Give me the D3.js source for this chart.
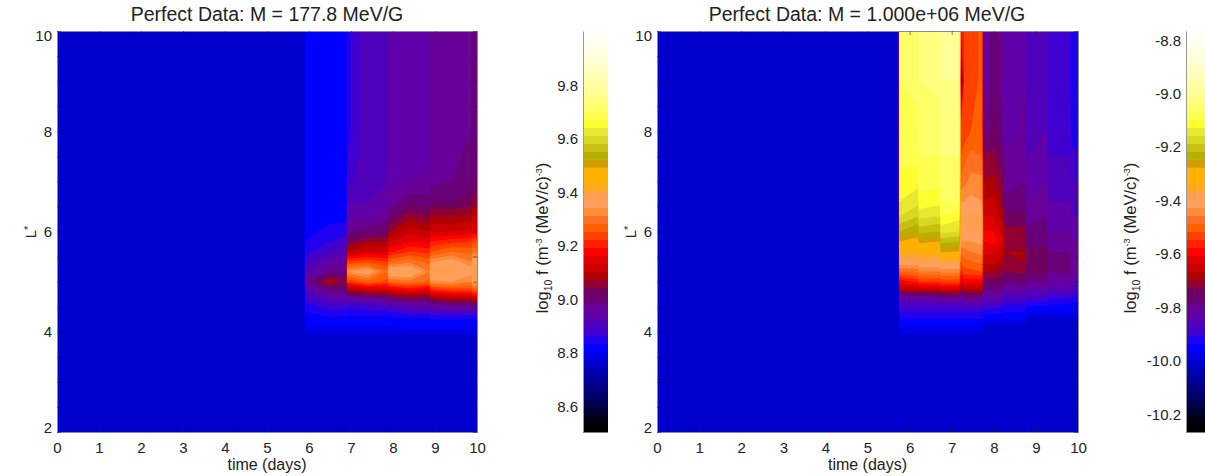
<!DOCTYPE html>
<html>
<head>
<meta charset="utf-8">
<script src="https://cdn.jsdelivr.net/npm/d3@7"></script>
<style>
  body { margin: 0; background: #fff; }
  svg { display: block; font-family: "Liberation Sans", sans-serif; fill: #222; }
</style>
</head>
<body>
<div id="graph"></div>
<script>
// L* rows shared by both panels
var lstar = [2, 3.9, 4.1, 4.25, 4.4, 4.55, 4.7, 4.85, 5, 5.2, 5.4, 5.6, 5.8, 6, 6.3, 6.6, 7, 7.5, 8, 9, 10]

var xTicks = [0, 1, 2, 3, 4, 5, 6, 7, 8, 9, 10]
var yTicks = d3.range(2, 10.5, .5)
var barTicksLeft = [8.6, 8.8, 9.0, 9.2, 9.4, 9.6, 9.8]
var barTicksRight = [-10.2, -10.0, -9.8, -9.6, -9.4, -9.2, -9.0, -8.8]

// time (days) of each column, then log10 f one column per time, one value per L*
var timesLow = [0, 5.89, 5.91, 6.5, 6.89, 6.91, 7.4, 7.87, 7.89, 8.4, 8.87, 8.89, 9.4, 9.87, 9.89, 10]
var fLow = [
  [8.76,8.76,8.76,8.76,8.76,8.76,8.76,8.76,8.76,8.76,8.76,8.76,8.76,8.76,8.76,8.76,8.76,8.76,8.76,8.76,8.76],
  [8.76,8.76,8.76,8.76,8.76,8.76,8.76,8.76,8.76,8.76,8.76,8.76,8.76,8.76,8.76,8.76,8.76,8.76,8.76,8.76,8.76],
  [8.76,8.76,8.80,8.82,8.83,8.85,8.88,8.91,8.97,8.91,8.88,8.85,8.83,8.82,8.82,8.82,8.82,8.82,8.82,8.82,8.82],
  [8.76,8.76,8.80,8.82,8.85,8.89,8.94,9.00,9.09,8.98,8.94,8.89,8.86,8.84,8.82,8.82,8.82,8.82,8.82,8.82,8.82],
  [8.76,8.76,8.80,8.82,8.85,8.89,8.95,9.00,9.04,8.98,8.95,8.91,8.88,8.85,8.82,8.82,8.82,8.82,8.82,8.82,8.82],
  [8.76,8.76,8.80,8.82,8.84,8.88,8.97,9.09,9.22,9.34,9.22,9.10,9.03,8.98,8.94,8.91,8.88,8.86,8.85,8.85,8.85],
  [8.76,8.76,8.80,8.82,8.85,8.89,9.00,9.13,9.27,9.37,9.24,9.13,9.07,9.00,8.94,8.92,8.91,8.91,8.91,8.91,8.91],
  [8.76,8.76,8.80,8.82,8.85,8.92,9.01,9.13,9.24,9.28,9.22,9.13,9.07,9.01,8.97,8.94,8.92,8.91,8.91,8.91,8.91],
  [8.76,8.76,8.80,8.82,8.86,8.92,9.03,9.15,9.28,9.39,9.27,9.18,9.12,9.06,9.00,8.96,8.94,8.94,8.94,8.94,8.94],
  [8.76,8.76,8.81,8.82,8.88,8.95,9.06,9.18,9.30,9.39,9.30,9.22,9.16,9.12,9.06,9.00,8.95,8.94,8.94,8.94,8.94],
  [8.76,8.76,8.81,8.82,8.88,8.95,9.04,9.16,9.27,9.31,9.27,9.21,9.15,9.10,9.04,8.99,8.96,8.94,8.94,8.94,8.94],
  [8.76,8.76,8.81,8.83,8.89,8.97,9.09,9.21,9.33,9.40,9.33,9.25,9.19,9.13,9.07,9.01,8.97,8.96,8.97,8.97,8.97],
  [8.76,8.76,8.81,8.83,8.89,9.00,9.12,9.24,9.34,9.40,9.36,9.28,9.21,9.13,9.07,9.01,8.98,8.97,8.97,8.97,8.97],
  [8.76,8.76,8.81,8.83,8.89,9.00,9.12,9.24,9.31,9.36,9.31,9.27,9.22,9.14,9.08,9.02,9.00,8.99,8.98,8.98,8.98],
  [8.76,8.76,8.81,8.83,8.89,9.01,9.15,9.27,9.36,9.40,9.36,9.30,9.24,9.16,9.10,9.05,9.01,9.00,9.00,9.00,9.00],
  [8.76,8.76,8.81,8.83,8.89,9.01,9.15,9.27,9.36,9.40,9.36,9.30,9.24,9.16,9.10,9.05,9.01,9.00,9.00,9.00,9.00]
]

var timesHigh = [0, 5.74, 5.76, 6.2, 6.22, 6.72, 6.74, 7.18, 7.22, 7.3, 7.45, 7.72, 7.76, 8, 8.22, 8.26, 8.74, 8.78, 9.26, 9.3, 9.8, 9.85, 10]
var fHigh = [
  [-10.01,-10.01,-10.01,-10.01,-10.01,-10.01,-10.01,-10.01,-10.01,-10.01,-10.01,-10.01,-10.01,-10.01,-10.01,-10.01,-10.01,-10.01,-10.01,-10.01,-10.01],
  [-10.01,-10.01,-10.01,-10.01,-10.01,-10.01,-10.01,-10.01,-10.01,-10.01,-10.01,-10.01,-10.01,-10.01,-10.01,-10.01,-10.01,-10.01,-10.01,-10.01,-10.01],
  [-10.01,-10.01,-9.97,-9.94,-9.91,-9.87,-9.81,-9.67,-9.60,-9.49,-9.40,-9.33,-9.28,-9.22,-9.16,-9.13,-9.11,-9.09,-9.09,-9.07,-9.07],
  [-10.01,-10.01,-9.97,-9.94,-9.91,-9.87,-9.81,-9.66,-9.57,-9.48,-9.40,-9.34,-9.30,-9.25,-9.19,-9.15,-9.12,-9.09,-9.08,-9.06,-9.06],
  [-10.01,-10.01,-9.97,-9.94,-9.91,-9.87,-9.81,-9.66,-9.55,-9.46,-9.39,-9.33,-9.27,-9.21,-9.15,-9.11,-9.09,-9.07,-9.06,-9.04,-9.04],
  [-10.01,-10.01,-9.97,-9.94,-9.91,-9.87,-9.79,-9.66,-9.55,-9.46,-9.39,-9.33,-9.28,-9.22,-9.16,-9.12,-9.09,-9.07,-9.06,-9.03,-9.03],
  [-10.01,-10.01,-9.97,-9.94,-9.91,-9.87,-9.78,-9.64,-9.54,-9.45,-9.37,-9.27,-9.21,-9.15,-9.10,-9.07,-9.06,-9.04,-9.03,-9.01,-9.01],
  [-10.01,-10.01,-9.97,-9.94,-9.91,-9.87,-9.78,-9.64,-9.54,-9.45,-9.37,-9.28,-9.22,-9.16,-9.12,-9.07,-9.06,-9.04,-9.03,-9.01,-9.01],
  [-10.01,-10.01,-9.97,-9.94,-9.91,-9.87,-9.81,-9.72,-9.63,-9.57,-9.52,-9.48,-9.43,-9.42,-9.40,-9.43,-9.48,-9.52,-9.54,-9.81,-9.60],
  [-10.01,-10.01,-9.97,-9.94,-9.91,-9.85,-9.78,-9.67,-9.60,-9.53,-9.50,-9.47,-9.43,-9.41,-9.40,-9.43,-9.47,-9.50,-9.54,-9.54,-9.54],
  [-10.01,-10.01,-9.97,-9.94,-9.91,-9.85,-9.78,-9.67,-9.60,-9.53,-9.49,-9.46,-9.43,-9.40,-9.39,-9.42,-9.45,-9.48,-9.52,-9.54,-9.54],
  [-10.01,-10.01,-9.97,-9.94,-9.91,-9.85,-9.78,-9.67,-9.60,-9.52,-9.48,-9.45,-9.42,-9.40,-9.40,-9.43,-9.45,-9.49,-9.51,-9.51,-9.51],
  [-10.01,-10.01,-10.01,-9.97,-9.93,-9.88,-9.84,-9.79,-9.75,-9.70,-9.66,-9.63,-9.61,-9.61,-9.64,-9.67,-9.70,-9.73,-9.79,-9.84,-9.84],
  [-10.01,-10.01,-10.01,-9.97,-9.93,-9.88,-9.82,-9.78,-9.74,-9.70,-9.66,-9.63,-9.60,-9.61,-9.64,-9.66,-9.69,-9.72,-9.75,-9.76,-9.76],
  [-10.01,-10.01,-10.01,-9.97,-9.93,-9.90,-9.84,-9.79,-9.75,-9.72,-9.69,-9.66,-9.63,-9.66,-9.69,-9.72,-9.73,-9.76,-9.79,-9.81,-9.81],
  [-10.01,-10.01,-10.01,-9.97,-9.94,-9.91,-9.87,-9.82,-9.78,-9.73,-9.71,-9.70,-9.71,-9.72,-9.75,-9.78,-9.81,-9.82,-9.84,-9.84,-9.84],
  [-10.01,-10.01,-10.01,-9.97,-9.94,-9.91,-9.87,-9.82,-9.76,-9.72,-9.70,-9.70,-9.71,-9.72,-9.75,-9.78,-9.79,-9.81,-9.81,-9.82,-9.82],
  [-10.01,-10.01,-10.01,-10.01,-9.97,-9.93,-9.88,-9.84,-9.79,-9.75,-9.75,-9.75,-9.77,-9.78,-9.81,-9.82,-9.84,-9.85,-9.87,-9.88,-9.88],
  [-10.01,-10.01,-10.01,-10.01,-9.97,-9.93,-9.88,-9.84,-9.79,-9.75,-9.75,-9.75,-9.77,-9.78,-9.79,-9.81,-9.82,-9.84,-9.85,-9.85,-9.85],
  [-10.01,-10.01,-10.01,-10.01,-9.97,-9.94,-9.90,-9.85,-9.82,-9.79,-9.78,-9.79,-9.81,-9.82,-9.84,-9.85,-9.87,-9.88,-9.89,-9.90,-9.90],
  [-10.01,-10.01,-10.01,-10.01,-9.97,-9.94,-9.90,-9.85,-9.82,-9.78,-9.78,-9.79,-9.81,-9.82,-9.84,-9.85,-9.87,-9.88,-9.89,-9.90,-9.90],
  [-10.01,-10.01,-10.01,-10.01,-9.97,-9.95,-9.91,-9.87,-9.84,-9.81,-9.81,-9.81,-9.82,-9.84,-9.85,-9.87,-9.88,-9.90,-9.93,-9.94,-9.94],
  [-10.01,-10.01,-10.01,-10.01,-9.97,-9.95,-9.91,-9.87,-9.84,-9.81,-9.81,-9.81,-9.82,-9.84,-9.85,-9.87,-9.88,-9.90,-9.93,-9.94,-9.94]
]

// colormap, bottom to top
var bands = [
  '#000000','#00000f','#000030','#000050','#000066','#000080','#000099','#0000b3','#0000cc','#0000e6',
  '#0000ff','#2000f0','#4000d0','#5000b8','#6000a8','#680098','#680078','#700060','#900030','#b00000',
  '#c80000','#e00000','#ff0000','#ff2000','#ff4000','#ff6000','#ff7020','#ff8c38','#ffa060','#ffa050',
  '#ffa820','#ffb000','#ffb000','#d0a000','#b8b000','#c8c010','#d8d820','#e8e830','#ffff30','#ffff50',
  '#ffff68','#ffff80','#ffff98','#ffffa8','#ffffb8','#ffffc8','#ffffd8','#ffffe4','#ffffee','#fffff8'
]

var sel = d3.select('#graph').html('')
var svg = sel.append('svg').attr('width', 1205).attr('height', 476)

var plotTop = 31, plotBottom = 432, bandStep = .03

function drawPanel(o){
  var x = d3.scaleLinear().domain([0, 10]).range([o.left, o.left + o.width])
  var y = d3.scaleLinear().domain([2, 10]).range([plotBottom, plotTop])

  // d3.contours works on grid cells, these map them back to time and L*
  var xCell = d3.scaleLinear().domain(o.times.map((d, i) => i + .5)).range(o.times.map(x)).clamp(true)
  var yCell = d3.scaleLinear().domain(lstar.map((d, i) => i + .5)).range(lstar.map(y)).clamp(true)

  var rows = d3.transpose(o.values)
  var thresholds = bands.map((d, i) => o.lo + i*bandStep)
  var contours = d3.contours()
    .size([o.times.length, lstar.length])
    .smooth(true)
    .thresholds(thresholds)(d3.merge(rows))

  var path = d3.geoPath(d3.geoTransform({
    point(a, b){ this.stream.point(xCell(a), yCell(b)) }
  }))

  var g = svg.append('g')
  g.append('g').style('filter', 'blur(.5px)')
    .selectAll('path').data(contours).join('path')
    .attr('d', path)
    .attr('fill', (d, i) => bands[i])

  // frame and inward ticks
  g.append('g').attr('transform', `translate(0,${plotBottom})`)
    .call(d3.axisBottom(x).tickValues(xTicks).tickSize(-4).tickPadding(10).tickFormat(d3.format('d')))
  g.append('g').attr('transform', `translate(0,${plotTop})`)
    .call(d3.axisTop(x).tickValues(xTicks).tickSize(-4).tickFormat(''))
  var yAxis = g.append('g').attr('transform', `translate(${o.left},0)`)
    .call(d3.axisLeft(y).tickValues(yTicks).tickSize(-4).tickPadding(5).tickFormat(d => d % 2 == 0 ? d : ''))
  g.append('g').attr('transform', `translate(${o.left + o.width},0)`)
    .call(d3.axisRight(y).tickValues(yTicks).tickSize(-4).tickFormat(''))

  g.selectAll('.domain').attr('stroke', '#8a8a9a').attr('stroke-width', 1)
  g.selectAll('.tick line').attr('stroke', '#222').attr('stroke-width', .7).attr('opacity', .75)
  g.selectAll('.tick text').attr('font-size', 15).attr('font-family', 'inherit').attr('fill', '#222')

  // the end labels are pushed inside the plot height
  yAxis.selectAll('.tick text')
    .attr('dy', d => d == 10 ? '.62em' : d == 2 ? '0' : '.32em')

  g.append('text').text(o.title)
    .attr('x', o.left + 210).attr('y', 21)
    .attr('text-anchor', 'middle').attr('font-size', 19.5)

  g.append('text').text('time (days)')
    .attr('x', x(5)).attr('y', 470)
    .attr('text-anchor', 'middle').attr('font-size', 16)

  var lLabel = g.append('text')
    .attr('transform', `translate(${o.left - 21},232) rotate(-90)`)
    .attr('text-anchor', 'middle').attr('font-size', 15)
  lLabel.append('tspan').text('L')
  lLabel.append('tspan').text('*').attr('font-size', 11).attr('dy', -4)

  // colorbar
  var barY = d3.scaleLinear().domain([o.lo, o.lo + bands.length*bandStep]).range([plotBottom, plotTop])
  var bar = svg.append('g')
  bar.selectAll('rect').data(bands).join('rect')
    .attr('x', o.barX).attr('width', 25)
    .attr('y', (d, i) => barY(o.lo + (i + 1)*bandStep))
    .attr('height', (d, i) => barY(o.lo + i*bandStep) - barY(o.lo + (i + 1)*bandStep) + .5)
    .attr('fill', d => d)
  var barAxis = bar.append('g').attr('transform', `translate(${o.barX},0)`)
    .call(d3.axisLeft(barY).tickValues(o.barTicks).tickSize(0).tickPadding(5).tickFormat(d => d.toFixed(1)))
  barAxis.select('.domain').attr('stroke', '#999').attr('stroke-width', 1)
  barAxis.selectAll('.tick text').attr('font-size', 15).attr('font-family', 'inherit').attr('fill', '#222').attr('dy', '.4em')

  var barLabel = bar.append('text')
    .attr('transform', `translate(${o.labelX},238) rotate(-90)`)
    .attr('text-anchor', 'middle').attr('font-size', 16.5)
  barLabel.append('tspan').text('log')
  barLabel.append('tspan').text('10').attr('font-size', 10.5).attr('dy', 4)
  barLabel.append('tspan').text(' f (m').attr('dy', -4)
  barLabel.append('tspan').text('-3').attr('font-size', 9).attr('dy', -6)
  barLabel.append('tspan').text(' (MeV/c)').attr('dy', 6)
  barLabel.append('tspan').text('-3').attr('font-size', 9).attr('dy', -6)
  barLabel.append('tspan').text(')').attr('dy', 6)
}

drawPanel({
  title: 'Perfect Data: M = 177.8 MeV/G',
  left: 57, width: 420, times: timesLow, values: fLow, lo: 8.5,
  barX: 583, barTicks: barTicksLeft, labelX: 548
})

drawPanel({
  title: 'Perfect Data: M = 1.000e+06 MeV/G',
  left: 657, width: 421, times: timesHigh, values: fHigh, lo: -10.27,
  barX: 1186, barTicks: barTicksRight, labelX: 1136
})
</script>
</body>
</html>
